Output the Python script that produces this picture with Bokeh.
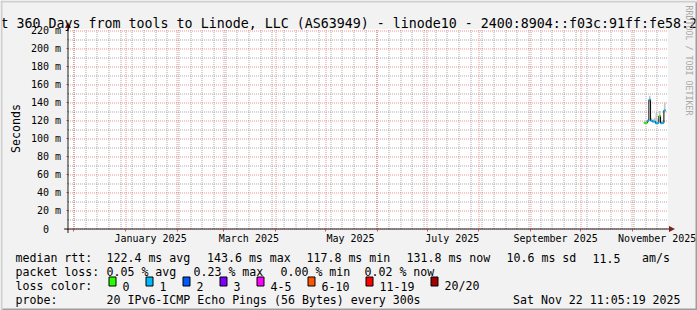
import math
from datetime import datetime, timedelta
from bokeh.plotting import figure
from bokeh.models import (Range1d, FixedTicker, LinearAxis, Label, Arrow, NormalHead,
                          BoxAnnotation, ColumnDataSource)
from bokeh.embed import file_html
from bokeh.resources import INLINE

# ---------------- data ----------------
title_text = "t 360 Days from tools to Linode, LLC (AS63949) - linode10 - 2400:8904::f03c:91ff:fe58:2"
end_time = "2025-11-22 11:05:19"
span_days = 360

days = ["2025-11-08", "2025-11-09", "2025-11-10", "2025-11-11", "2025-11-12", "2025-11-13",
        "2025-11-14", "2025-11-15", "2025-11-16", "2025-11-17", "2025-11-18", "2025-11-19",
        "2025-11-20"]
median_ms = [118.0, 117.8, 120.0, 143.6, 120.5, 119.5, 119.4, 117.6, 117.8, 125.6, 117.6, 117.8, 131.8]
loss_avg = [0, 0, 0.2, 0.3, 0.2, 0.1, 0.1, 0.2, 0.1, 0, 0.2, 0.1, 0.2]
smoke_low = [117.0, 116.8, 118.8, 141.5, 119.0, 118.2, 118.0, 116.5, 116.8, 124.2, 116.6, 116.8, 129.8]
smoke_high = [119.5, 119.2, 122.0, 148.0, 123.0, 122.0, 123.5, 129.0, 122.0, 131.0, 120.0, 120.5, 140.5]

y_ticks = [0, 20, 40, 60, 80, 100, 120, 140, 160, 180, 200, 220]
y_minor = [10, 30, 50, 70, 90, 110, 130, 150, 170, 190, 210]
y_labels = ["0\u00a0\u00a0", "20 m", "40 m", "60 m", "80 m", "100 m", "120 m", "140 m",
            "160 m", "180 m", "200 m", "220 m"]
y_top = 222.22

month_label_starts = ["2025-01-01", "2025-03-01", "2025-05-01", "2025-07-01", "2025-09-01", "2025-11-01"]
month_label_texts = ["January 2025", "March 2025", "May 2025", "July 2025", "September 2025", "November 2025"]

loss_names = ["0", "1", "2", "3", "4-5", "6-10", "11-19", "20/20"]
loss_limits = [0, 1, 2, 3, 5, 10, 19, 20]
loss_colors = ["#26ff00", "#00b8ff", "#0059ff", "#7e00ff", "#ff00ff", "#ff5500", "#ff0000", "#a10000"]

legend_line1 = ["median rtt:", "122.4 ms avg", "143.6 ms max", "117.8 ms min", "131.8 ms now",
                "10.6 ms sd", "11.5", "am/s"]
legend_line2 = ["packet loss:", "0.05 % avg", "0.23 % max", "0.00 % min", "0.02 % now"]
legend_line3 = ["loss color:"]
legend_line4 = ["probe:", "20 IPv6-ICMP Echo Pings (56 Bytes) every 300s", "Sat Nov 22 11:05:19 2025"]

# ---------------- helpers ----------------
EPOCH = datetime(1970, 1, 1)


def ms(d):
    return (d - EPOCH).total_seconds() * 1000.0


def day(s):
    return datetime.strptime(s, "%Y-%m-%d")


END = datetime.strptime(end_time, "%Y-%m-%d %H:%M:%S")
START = END - timedelta(days=span_days)
X0, X1 = ms(START), ms(END)

FONT = "DejaVu Sans Mono"
W, H = 697, 310
PLOT_L, PLOT_T, PLOT_W, PLOT_H = 67.5, 28.5, 600, 200   # canvas pixel geometry of the graph area
px_x = (X1 - X0) / PLOT_W
px_y = y_top / PLOT_H
PLOT_B = PLOT_T + PLOT_H

MGRID = "#de4f4f"
GRID = "#8f8f8f"

x_range = Range1d(X0 - PLOT_L * px_x, X1 + (W - PLOT_L - PLOT_W) * px_x)
y_range = Range1d(-(H - PLOT_B) * px_y, y_top + PLOT_T * px_y)

p = figure(width=W, height=H, x_range=x_range, y_range=y_range,
           output_backend="svg", toolbar_location=None,
           x_axis_type=None, y_axis_type=None,
           min_border=0, min_border_left=0, min_border_right=0,
           min_border_top=0, min_border_bottom=0,
           background_fill_color="#f2f2f2", border_fill_color="#f2f2f2",
           outline_line_color=None)
p.extra_x_ranges = {"px": Range1d(0, W)}
p.extra_y_ranges = {"px": Range1d(H, 0)}

# white graph canvas
p.add_layout(BoxAnnotation(left=X0, right=X1, bottom=0, top=y_top, fill_color="#ffffff",
                           fill_alpha=1.0, line_color=None, level="image"))

# grid positions (months and weeks)
month_starts = []
d = datetime(START.year, START.month, 1)
while d <= END:
    if d >= START:
        month_starts.append(ms(d))
    d = datetime(d.year + (d.month // 12), d.month % 12 + 1, 1)
week_starts = []
d = datetime(START.year, START.month, START.day) + timedelta(days=1)
while d.weekday() != 6:
    d += timedelta(days=1)
while d <= END:
    week_starts.append(ms(d))
    d += timedelta(days=7)

label_pos = [ms(day(s) + timedelta(days=15)) for s in month_label_starts]


def snap(t):
    # put a grid line on a whole device pixel, as rrdtool does
    return X0 + round((t - X0) / px_x) * px_x


p.segment(x0=[snap(t) for t in week_starts], x1=[snap(t) for t in week_starts], y0=0, y1=y_top,
          line_color=GRID, line_alpha=0.75, line_dash="1 1", level="underlay")
p.segment(x0=X0, x1=X1, y0=y_minor, y1=y_minor, line_color=GRID, line_alpha=0.75,
          line_dash="1 1", level="underlay")
p.segment(x0=[snap(t) for t in month_starts], x1=[snap(t) for t in month_starts], y0=0, y1=y_top,
          line_color=MGRID, line_alpha=0.6, line_dash="1 1", level="underlay")
p.segment(x0=X0, x1=X1, y0=y_ticks, y1=y_ticks, line_color=MGRID, line_alpha=0.6,
          line_dash="1 1", level="underlay")

yaxis = LinearAxis(fixed_location=X0, bounds=(0, y_top),
                   ticker=FixedTicker(ticks=y_ticks, minor_ticks=y_minor),
                   major_label_overrides={t: l for t, l in zip(y_ticks, y_labels)},
                   axis_line_color=None, major_tick_in=0, major_tick_out=2,
                   major_tick_line_color=MGRID, minor_tick_in=0, minor_tick_out=1,
                   minor_tick_line_color=GRID, major_label_standoff=5,
                   major_label_text_font=FONT, major_label_text_font_size="10px",
                   major_label_text_color="#000000")
p.add_layout(yaxis, "left")

xaxis = LinearAxis(fixed_location=0, bounds=(X0, X1),
                   ticker=FixedTicker(ticks=label_pos, minor_ticks=month_starts),
                   major_label_overrides={t: l for t, l in zip(label_pos, month_label_texts)},
                   axis_line_color=None, major_tick_in=0, major_tick_out=0,
                   major_tick_line_color=None, minor_tick_in=0, minor_tick_out=2,
                   minor_tick_line_color=MGRID, major_label_standoff=2,
                   major_label_text_font=FONT, major_label_text_font_size="10px",
                   major_label_text_color="#000000")
p.add_layout(xaxis, "below")

# ---------------- data glyphs ----------------
starts = [ms(day(s)) for s in days]
ends = [ms(day(s) + timedelta(days=1)) for s in days]


def loss_color(v):
    for lim, c in zip(loss_limits, loss_colors):
        if v <= lim:
            return c
    return loss_colors[-1]


src = ColumnDataSource(dict(left=starts, right=ends, lo=smoke_low, hi=smoke_high,
                            med=median_ms, color=[loss_color(v) for v in loss_avg]))
p.quad(left="left", right="right", bottom="lo", top="hi", source=src,
       fill_color="#c4c4c4", line_color=None)
p.step(x=starts + [ends[-1]], y=median_ms + [median_ms[-1]], mode="after",
       line_color="#000000", line_width=1)
p.segment(x0="left", x1="right", y0="med", y1="med", line_color="color", line_width=2, source=src)

# ---------------- axis lines with arrows ----------------
p.add_layout(Arrow(x_start=X0 - 4 * px_x, y_start=0, x_end=X1 + 7 * px_x, y_end=0,
                   line_color="#1f1f1f", line_width=1,
                   end=NormalHead(size=6, fill_color="#801f1f", line_color=None)))
p.add_layout(Arrow(x_start=X0, y_start=-4 * px_y, x_end=X0, y_end=y_top + 7 * px_y,
                   line_color="#1f1f1f", line_width=1,
                   end=NormalHead(size=6, fill_color="#801f1f", line_color=None)))

# ---------------- 3d border ----------------
for l, r, t, b, c in [(0, W, 0, 2, "#cfcfcf"), (0, 2, 0, H, "#cfcfcf"),
                      (2, W, H - 2, H, "#9e9e9e"), (W - 2, W, 2, H, "#9e9e9e")]:
    p.add_layout(BoxAnnotation(left=l, right=r, top=t, bottom=b,
                               x_range_name="px", y_range_name="px",
                               fill_color=c, fill_alpha=1.0, line_color=None, level="overlay"))

# ---------------- texts ----------------


def label(text, x, y, size="11.6px", color="#000000", baseline="alphabetic", align="left", angle=0.0):
    p.add_layout(Label(text=text, x=x, y=y, x_range_name="px", y_range_name="px",
                       text_font=FONT, text_font_size=size, text_color=color,
                       text_baseline=baseline, text_align=align, angle=angle))


label(title_text, 0, 23, size="13.3px")
label("RRDTOOL / TOBI OETIKER", 688, 5, size="8.3px", color="#a8a8a8", angle=-math.pi / 2,
      baseline="middle")
label("Seconds", 15, 128, angle=math.pi / 2, align="center")

row_y = [257.5, 271.5, 285.5, 299.5]
for txt, x in zip(legend_line1, [15, 106, 206.5, 306, 406, 506, 592, 641.5]):
    label(txt, x, row_y[0])
for txt, x in zip(legend_line2, [15, 106, 193, 280, 364]):
    label(txt, x, row_y[1])
label(legend_line3[0], 15, row_y[2])
for txt, x in zip(legend_line4, [15, 106, 512.5]):
    label(txt, x, row_y[3])

# loss colour keys: box, then its label; each entry advances by 30 px + 7 px per character
box_l, box_w, box_top, box_bot = [], [], [], []
bx = 108.5
for name in loss_names:
    box_l.append(bx)
    label(name, bx + 13.5, row_y[2])
    bx += 30 + 7 * len(name)
p.quad(left=box_l, right=[b + 7 for b in box_l], top=[276.5] * len(box_l), bottom=[285.5] * len(box_l),
       fill_color=loss_colors, line_color="#000000", line_width=1,
       x_range_name="px", y_range_name="px")

open("out.html", "w").write(file_html(p, INLINE))
